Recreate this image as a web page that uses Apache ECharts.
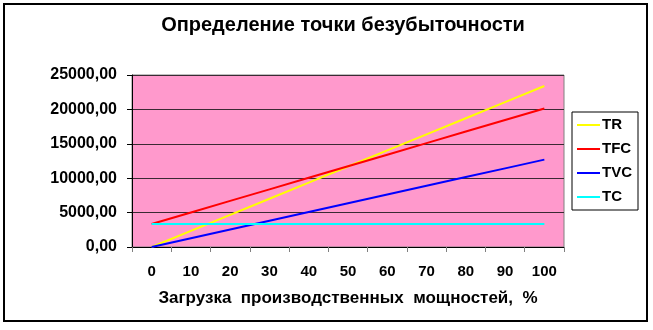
<!DOCTYPE html>
<html>
<head>
<meta charset="utf-8">
<script src="https://cdn.jsdelivr.net/npm/echarts@6/dist/echarts.min.js"></script>
<style>
html,body{margin:0;padding:0;background:#fff;}
#c{width:653px;height:330px;}
</style>
</head>
<body>
<div id="c"></div>
<script>
var categories = ['0','10','20','30','40','50','60','70','80','90','100'];
var TR  = [0, 2340, 4680, 7020, 9360, 11700, 14040, 16380, 18720, 21060, 23400];
var TFC = [3340, 5020, 6700, 8380, 10060, 11740, 13420, 15100, 16780, 18460, 20140];
var TVC = [0, 1270, 2540, 3810, 5080, 6350, 7620, 8890, 10160, 11430, 12700];
var TC  = [3340, 3340, 3340, 3340, 3340, 3340, 3340, 3340, 3340, 3340, 3340];
var seriesNames = ['TR', 'TFC', 'TVC', 'TC'];
var seriesData = [TR, TFC, TVC, TC];
var colors = ['#FFFF00', '#FF0000', '#0000FF', '#00FFFF'];

var FONT = '"Liberation Sans", Arial, sans-serif';
var chart = echarts.init(document.getElementById('c'), null, {renderer: 'canvas'});
chart.setOption({
  animation: false,
  title: {
    text: 'Определение точки безубыточности',
    left: 338, top: 10, textAlign: 'center',
    textStyle: {fontFamily: FONT, fontWeight: 'bold', fontSize: 20, color: '#000'}
  },
  graphic: [{
    type: 'rect', shape: {x: 4, y: 4, width: 643, height: 317},
    style: {fill: 'none', stroke: '#000', lineWidth: 2}, silent: true, z: 100
  }],
  legend: {
    orient: 'vertical', left: 572, top: 112,
    padding: [5, 6, 5, 5],
    borderColor: '#000', borderWidth: 1,
    icon: 'rect', itemWidth: 23, itemHeight: 2, itemGap: 8,
    textStyle: {fontFamily: FONT, fontWeight: 'bold', fontSize: 15, color: '#000', lineHeight: 16, padding: [0,0,0,-3]},
    data: seriesNames
  },
  grid: {
    left: 132, top: 75, width: 432, height: 172,
    show: true, backgroundColor: '#FF99CC', borderColor: '#808080', borderWidth: 1
  },
  xAxis: {
    type: 'category', data: categories, boundaryGap: true,
    name: 'Загрузка  производственных  мощностей,  %',
    nameLocation: 'middle', nameGap: 43,
    nameTextStyle: {fontFamily: FONT, fontWeight: 'bold', fontSize: 17, color: '#000'},
    axisLine: {lineStyle: {color: '#000', width: 1}},
    axisTick: {show: true, interval: 0, length: 5, lineStyle: {color: '#808080'}},
    axisLabel: {interval: 0, margin: 17, fontFamily: FONT, fontWeight: 'bold', fontSize: 15, color: '#000'},
    splitLine: {show: false}
  },
  yAxis: {
    type: 'value', min: 0, max: 25000, interval: 5000,
    axisLine: {show: true, lineStyle: {color: '#000', width: 1}},
    axisTick: {show: true, length: 5, lineStyle: {color: '#000'}},
    axisLabel: {margin: 15, fontFamily: FONT, fontWeight: 'bold', fontSize: 16, color: '#000',
      formatter: function (v) { return v.toFixed(2).replace('.', ','); }},
    splitLine: {show: true, lineStyle: {color: '#3a2a33', width: 1}}
  },
  series: seriesNames.map(function (n, i) {
    return {
      name: n, type: 'line', data: seriesData[i], showSymbol: false, symbol: 'none',
      lineStyle: {color: colors[i], width: 2}, itemStyle: {color: colors[i]}
    };
  })
});
</script>
</body>
</html>
